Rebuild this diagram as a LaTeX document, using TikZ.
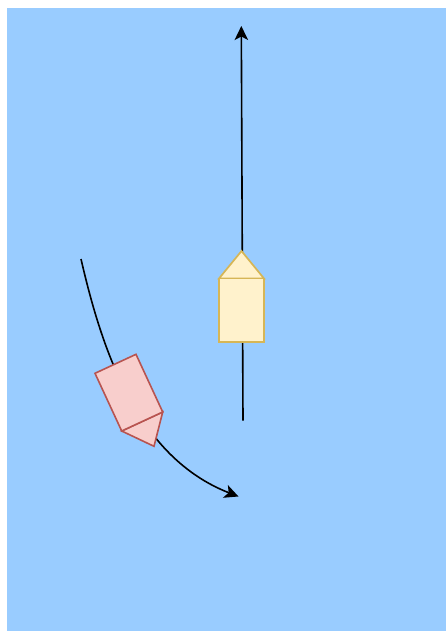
\documentclass[tikz,border=0pt]{standalone}
\usepackage{tikz}
\usetikzlibrary{arrows.meta}
\definecolor{seablue}{HTML}{99CCFF}
\definecolor{yellowfill}{HTML}{FFF2CC}
\definecolor{yellowline}{HTML}{D6B656}
\definecolor{redfill}{HTML}{F8CECC}
\definecolor{redline}{HTML}{B85450}
\tikzset{
    track/.style={black,line width=1.6pt,-{Stealth[length=14pt,width=13.5pt,inset=3.5pt]}},
    yellowboat/.style={draw=yellowline,fill=yellowfill,line width=1.7pt,line join=miter},
    redboat/.style={draw=redline,fill=redfill,line width=1.6pt,line join=miter},
}
\begin{document}
\begin{tikzpicture}[x=1pt,y=-1pt]
    \useasboundingbox (0,0) rectangle (446,631);
    \fill[seablue] (7,8) rectangle (446,631);

    % track ends
    \coordinate (straightstart) at (243,420.5);
    \coordinate (straightend) at (241.3,26);
    \coordinate (curvestart) at (81,259);
    \coordinate (curveend) at (238.5,496.5);

    \draw[track] (straightstart) -- (straightend);
    \draw[track] (curvestart) .. controls (102,350) and (137,457) .. (curveend);

    % yellow boat
    \coordinate (yellowa) at (219,278.5);
    \coordinate (yellowb) at (264,278.5);
    \coordinate (yellowc) at (264,342);
    \coordinate (yellowd) at (219,342);
    \coordinate (yellowtip) at (241.5,251);
    \draw[yellowboat] (yellowa) -- (yellowtip) -- (yellowb) -- cycle;
    \draw[yellowboat] (yellowa) -- (yellowb) -- (yellowc) -- (yellowd) -- cycle;

    % red boat
    \coordinate (reda) at (95,373.3);
    \coordinate (redb) at (136,354.3);
    \coordinate (redc) at (162.7,412);
    \coordinate (redd) at (121.7,431);
    \coordinate (redtip) at (154,446.3);
    \draw[redboat] (redd) -- (redtip) -- (redc) -- cycle;
    \draw[redboat] (reda) -- (redb) -- (redc) -- (redd) -- cycle;
\end{tikzpicture}
\end{document}
